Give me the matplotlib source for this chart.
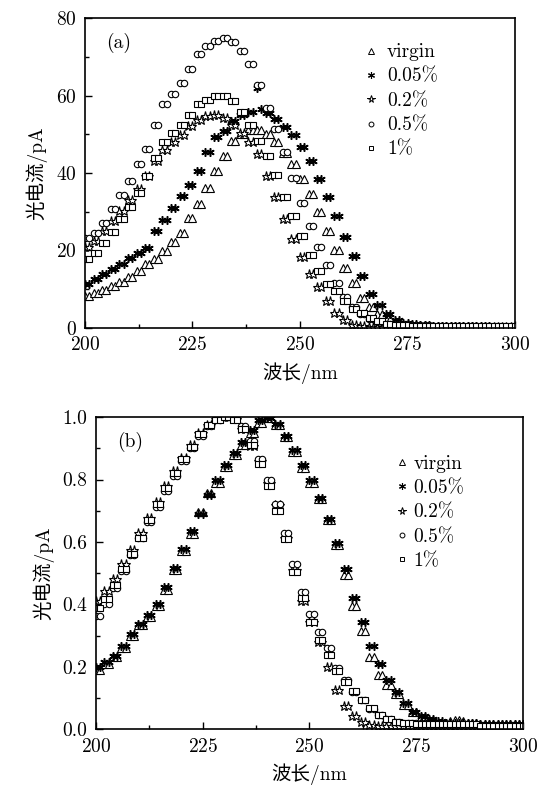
import numpy as np
import matplotlib
matplotlib.use('Agg')
from matplotlib import pyplot as plt
from matplotlib.ticker import MultipleLocator, FormatStrFormatter

plt.rcParams['font.family'] = ['cmr10', 'Noto Sans CJK SC', 'DejaVu Sans']
plt.rcParams['mathtext.fontset'] = 'cm'
plt.rcParams['axes.formatter.use_mathtext'] = True
plt.rcParams['axes.unicode_minus'] = False

# wavelength grid, nm
wl = np.arange(200, 301)

labels = ['virgin', '0.05%', '0.2%', '0.5%', '1%']

# (a) photocurrent, pA
virgin_a = [
    8.1, 8.1, 8.9, 8.9, 9.7, 9.7, 10.7, 10.7, 11.9, 11.9,
    13.1, 13.1, 14.7, 14.7, 16.4, 16.4, 17.8, 17.8, 19.8, 19.8,
    22.2, 22.2, 24.6, 24.6, 28.4, 28.4, 32.0, 32.0, 36.0, 36.0,
    40.5, 40.5, 44.5, 44.5, 48.2, 48.2, 50.2, 50.2, 51.0, 51.0,
    51.0, 51.0, 50.2, 50.2, 48.0, 48.0, 45.2, 45.2, 42.2, 42.2,
    38.5, 38.5, 34.5, 34.5, 30.0, 30.0, 25.0, 25.0, 20.2, 20.2,
    15.5, 15.5, 11.5, 11.5, 7.7, 7.7, 5.5, 5.5, 3.6, 3.6,
    2.3, 2.3, 1.45, 1.45, 0.95, 0.95, 0.75, 0.75, 0.65, 0.65,
    0.6, 0.6, 0.5, 0.5, 0.5, 0.5, 0.4, 0.4, 0.4, 0.4,
    0.4, 0.4, 0.3, 0.3, 0.3, 0.3, 0.3, 0.3, 0.3, 0.3, 0.3]
p005_a = [
    11.3, 11.3, 12.7, 12.7, 14.0, 14.0, 15.3, 15.3, 16.6, 16.6,
    18.0, 18.0, 19.3, 19.3, 20.5, 20.5, 25.0, 25.0, 27.9, 27.9,
    31.0, 31.0, 34.0, 34.0, 37.0, 37.0, 40.5, 40.5, 45.5, 45.5,
    49.2, 49.2, 50.8, 50.8, 53.5, 53.5, 55.0, 55.0, 55.8, 55.8,
    62.0, 56.5, 55.5, 55.5, 54.0, 54.0, 52.0, 52.0, 49.8, 49.8,
    46.7, 46.7, 43.0, 43.0, 38.4, 38.4, 33.8, 33.8, 29.0, 29.0,
    23.5, 23.5, 18.5, 18.5, 13.5, 13.5, 8.7, 8.7, 6.0, 6.0,
    3.5, 3.5, 2.1, 2.1, 1.25, 1.25, 0.95, 0.95, 0.75, 0.75,
    0.7, 0.6, 0.6, 0.6, 0.5, 0.5, 0.5, 0.5, 0.4, 0.4,
    0.4, 0.4, 0.4, 0.4, 0.4, 0.3, 0.3, 0.3, 0.3, 0.3, 0.3]
p02_a = [
    20.8, 20.8, 22.5, 22.5, 25.1, 25.1, 27.5, 27.5, 30.3, 30.3,
    32.9, 32.9, 35.8, 35.8, 39.2, 39.2, 43.0, 43.0, 46.0, 46.0,
    48.0, 48.0, 49.8, 49.8, 52.2, 52.2, 53.8, 53.8, 54.6, 54.6,
    54.9, 54.9, 54.2, 54.2, 52.5, 52.5, 50.4, 50.4, 47.9, 47.9,
    45.0, 45.0, 39.3, 39.3, 33.8, 33.8, 28.0, 28.0, 23.0, 23.0,
    18.3, 18.3, 14.0, 14.0, 10.5, 10.5, 6.9, 6.9, 3.9, 3.9,
    2.1, 2.1, 0.8, 0.8, 0.35, 0.35, 0.3, 0.3, 0.3, 0.3,
    0.3, 0.3, 0.3, 0.3, 0.3, 0.3, 0.3, 0.3, 0.3, 0.3,
    0.3, 0.3, 0.3, 0.2, 0.2, 0.2, 0.2, 0.2, 0.2, 0.2,
    0.2, 0.2, 0.2, 0.2, 0.2, 0.2, 0.2, 0.2, 0.2, 0.2, 0.2]
p05_a = [
    23.2, 23.2, 24.5, 24.5, 27.0, 27.0, 30.8, 30.8, 34.3, 34.3,
    38.0, 38.0, 42.2, 42.2, 46.3, 46.3, 52.5, 52.5, 57.8, 57.8,
    60.3, 60.3, 63.2, 63.2, 66.8, 66.8, 70.7, 70.7, 72.8, 72.8,
    74.1, 74.1, 74.8, 74.8, 73.8, 73.8, 71.5, 71.5, 68.2, 68.2,
    62.8, 62.8, 56.8, 56.8, 51.3, 51.3, 45.5, 45.5, 38.8, 38.8,
    32.3, 32.3, 26.3, 26.3, 21.0, 21.0, 16.3, 16.3, 11.5, 11.5,
    7.9, 7.9, 5.4, 5.4, 3.5, 3.5, 2.2, 2.2, 1.45, 1.45,
    1.05, 1.05, 0.9, 0.9, 0.8, 0.8, 0.8, 0.7, 0.7, 0.7,
    0.7, 0.6, 0.6, 0.6, 0.6, 0.5, 0.5, 0.5, 0.5, 0.5,
    0.5, 0.5, 0.4, 0.4, 0.4, 0.4, 0.4, 0.4, 0.4, 0.4, 0.4]
p1_a = [
    17.8, 17.8, 19.4, 19.4, 21.8, 21.8, 24.8, 24.8, 28.0, 28.0,
    31.3, 31.3, 34.8, 34.8, 39.3, 39.3, 43.8, 43.8, 48.0, 48.0,
    50.3, 50.3, 52.3, 52.3, 55.1, 55.1, 57.9, 57.9, 58.8, 58.8,
    60.0, 60.0, 60.0, 60.0, 58.5, 58.5, 55.8, 55.8, 52.5, 52.5,
    48.3, 48.3, 44.5, 44.5, 39.5, 39.5, 33.8, 33.8, 28.8, 28.8,
    23.8, 23.8, 18.8, 18.8, 14.6, 14.6, 11.3, 11.3, 9.4, 9.4,
    7.0, 7.0, 4.9, 4.9, 3.9, 3.9, 2.5, 2.5, 1.65, 1.65,
    1.1, 1.1, 0.85, 0.85, 0.7, 0.7, 0.6, 0.6, 0.6, 0.5,
    0.5, 0.5, 0.5, 0.5, 0.5, 0.5, 0.5, 0.5, 0.5, 0.5,
    0.5, 0.4, 0.4, 0.4, 0.4, 0.4, 0.4, 0.4, 0.4, 0.4, 0.4]

# (b) normalised photocurrent
virgin_b = [
    0.19, 0.19, 0.21, 0.21, 0.23, 0.23, 0.26, 0.26, 0.30, 0.30,
    0.333, 0.333, 0.358, 0.358, 0.395, 0.395, 0.445, 0.445, 0.51, 0.51,
    0.572, 0.572, 0.625, 0.625, 0.695, 0.695, 0.758, 0.758, 0.79, 0.79,
    0.84, 0.84, 0.88, 0.88, 0.912, 0.912, 0.95, 0.95, 0.982, 0.982,
    0.998, 0.998, 0.975, 0.975, 0.935, 0.935, 0.888, 0.888, 0.838, 0.838,
    0.79, 0.79, 0.738, 0.738, 0.67, 0.67, 0.59, 0.59, 0.495, 0.495,
    0.395, 0.395, 0.315, 0.315, 0.23, 0.23, 0.172, 0.172, 0.142, 0.142,
    0.112, 0.112, 0.078, 0.078, 0.055, 0.055, 0.038, 0.038, 0.028, 0.028,
    0.02, 0.02, 0.02, 0.025, 0.03, 0.03, 0.025, 0.02, 0.02, 0.02,
    0.015, 0.015, 0.015, 0.015, 0.015, 0.015, 0.015, 0.015, 0.015, 0.015, 0.015]
p005_b = [
    0.20, 0.20, 0.215, 0.215, 0.235, 0.235, 0.265, 0.265, 0.305, 0.305,
    0.338, 0.338, 0.365, 0.365, 0.40, 0.40, 0.455, 0.455, 0.518, 0.518,
    0.578, 0.578, 0.635, 0.635, 0.69, 0.69, 0.752, 0.752, 0.80, 0.80,
    0.845, 0.845, 0.885, 0.885, 0.92, 0.92, 0.96, 0.96, 0.99, 0.99,
    0.998, 0.998, 0.978, 0.978, 0.94, 0.94, 0.895, 0.895, 0.848, 0.848,
    0.798, 0.798, 0.74, 0.74, 0.675, 0.675, 0.598, 0.598, 0.512, 0.512,
    0.42, 0.42, 0.345, 0.345, 0.268, 0.268, 0.208, 0.208, 0.158, 0.158,
    0.118, 0.118, 0.083, 0.083, 0.055, 0.055, 0.042, 0.042, 0.032, 0.032,
    0.025, 0.025, 0.02, 0.02, 0.02, 0.02, 0.02, 0.02, 0.02, 0.02,
    0.015, 0.015, 0.015, 0.015, 0.015, 0.015, 0.015, 0.015, 0.015, 0.015, 0.015]
p02_b = [
    0.41, 0.41, 0.443, 0.443, 0.48, 0.48, 0.528, 0.528, 0.573, 0.573,
    0.628, 0.628, 0.678, 0.678, 0.728, 0.728, 0.778, 0.778, 0.828, 0.828,
    0.87, 0.87, 0.91, 0.91, 0.948, 0.948, 0.975, 0.975, 0.994, 0.994,
    1.0, 1.0, 0.994, 0.994, 0.962, 0.962, 0.908, 0.908, 0.858, 0.858,
    0.79, 0.79, 0.718, 0.718, 0.612, 0.612, 0.51, 0.51, 0.41, 0.41,
    0.345, 0.345, 0.28, 0.28, 0.20, 0.20, 0.125, 0.125, 0.075, 0.075,
    0.043, 0.043, 0.022, 0.022, 0.013, 0.013, 0.01, 0.01, 0.01, 0.01,
    0.01, 0.01, 0.01, 0.01, 0.01, 0.01, 0.01, 0.01, 0.01, 0.01,
    0.01, 0.01, 0.01, 0.01, 0.01, 0.01, 0.01, 0.01, 0.01, 0.01,
    0.01, 0.01, 0.01, 0.01, 0.01, 0.01, 0.01, 0.01, 0.01, 0.01, 0.01]
p05_b = [
    0.362, 0.362, 0.40, 0.40, 0.452, 0.452, 0.508, 0.508, 0.558, 0.558,
    0.612, 0.612, 0.665, 0.665, 0.712, 0.712, 0.762, 0.762, 0.812, 0.812,
    0.86, 0.86, 0.90, 0.90, 0.94, 0.94, 0.97, 0.97, 0.992, 0.992,
    1.0, 1.0, 0.998, 0.998, 0.972, 0.972, 0.922, 0.922, 0.865, 0.865,
    0.80, 0.80, 0.72, 0.72, 0.63, 0.63, 0.528, 0.528, 0.44, 0.44,
    0.37, 0.37, 0.312, 0.312, 0.26, 0.26, 0.195, 0.195, 0.158, 0.158,
    0.12, 0.12, 0.095, 0.095, 0.065, 0.065, 0.045, 0.045, 0.032, 0.032,
    0.022, 0.022, 0.02, 0.02, 0.02, 0.02, 0.02, 0.02, 0.015, 0.015,
    0.015, 0.015, 0.015, 0.015, 0.015, 0.015, 0.015, 0.015, 0.015, 0.015,
    0.01, 0.01, 0.01, 0.01, 0.01, 0.01, 0.01, 0.01, 0.01, 0.01, 0.01]
p1_b = [
    0.388, 0.388, 0.418, 0.418, 0.462, 0.462, 0.512, 0.512, 0.562, 0.562,
    0.612, 0.612, 0.67, 0.67, 0.722, 0.722, 0.772, 0.772, 0.822, 0.822,
    0.865, 0.865, 0.905, 0.905, 0.945, 0.945, 0.975, 0.975, 0.992, 0.992,
    1.0, 1.0, 0.992, 0.992, 0.962, 0.962, 0.91, 0.91, 0.85, 0.85,
    0.78, 0.78, 0.70, 0.70, 0.608, 0.608, 0.505, 0.505, 0.42, 0.42,
    0.345, 0.345, 0.285, 0.285, 0.238, 0.238, 0.188, 0.188, 0.152, 0.152,
    0.122, 0.122, 0.092, 0.092, 0.068, 0.068, 0.045, 0.045, 0.032, 0.032,
    0.022, 0.022, 0.02, 0.02, 0.02, 0.015, 0.015, 0.015, 0.015, 0.015,
    0.015, 0.015, 0.015, 0.015, 0.015, 0.015, 0.015, 0.015, 0.015, 0.015,
    0.01, 0.01, 0.01, 0.01, 0.01, 0.01, 0.01, 0.01, 0.01, 0.01, 0.01]

series_a = [virgin_a, p005_a, p02_a, p05_a, p1_a]
series_b = [virgin_b, p005_b, p02_b, p05_b, p1_b]

markers = ['^', (6, 2, 0), '*', 'o', 's']
msizes = [5.8, 6.0, 6.5, 4.6, 4.0]
mews = [0.8, 1.1, 0.8, 0.8, 0.8]
# smaller symbols in the key
key_sizes = [4.0, 5.0, 5.5, 3.5, 3.0]
key_mews = [0.7, 0.8, 0.7, 0.7, 0.7]

fig = plt.figure(figsize=(5.41, 7.90), dpi=100)
ax1 = fig.add_axes([0.157, 0.585, 0.795, 0.392])
ax2 = fig.add_axes([0.177, 0.077, 0.790, 0.395])


def draw(ax, data):
    for y, lab, m, ms, mw in zip(data, labels, markers, msizes, mews):
        ax.plot(wl, y, linestyle='none', marker=m, ms=ms, mfc='white',
                mec='black', mew=mw, label=lab)
    ax.set_xlim(200, 300)
    ax.xaxis.set_major_locator(MultipleLocator(25))
    ax.xaxis.set_minor_locator(MultipleLocator(12.5))
    ax.tick_params(which='both', direction='in', top=False, right=False,
                   labelsize=14, width=1.0)
    ax.tick_params(which='major', length=5, pad=6)
    ax.tick_params(which='minor', length=3)
    for s in ax.spines.values():
        s.set_linewidth(1.2)
    ax.set_xlabel('波长/nm', fontsize=14, labelpad=6)
    ax.set_ylabel('光电流/pA', fontsize=14, labelpad=6)


def key(ax, anchor, textpad):
    leg = ax.legend(loc='upper left', bbox_to_anchor=anchor, frameon=False,
                    fontsize=14, handlelength=0.6, handletextpad=textpad,
                    labelspacing=0.33, borderpad=0)
    for h, ms, mw in zip(leg.legend_handles, key_sizes, key_mews):
        h.set_markersize(ms)
        h.set_markeredgewidth(mw)


draw(ax1, series_a)
ax1.set_ylim(0, 80)
ax1.yaxis.set_major_locator(MultipleLocator(20))
ax1.yaxis.set_minor_locator(MultipleLocator(10))
ax1.text(0.05, 0.92, '(a)', transform=ax1.transAxes, fontsize=14,
         va='center', ha='left')
key(ax1, (0.63, 0.95), 0.5)

draw(ax2, series_b)
ax2.set_ylim(0, 1.0)
ax2.yaxis.set_major_locator(MultipleLocator(0.2))
ax2.yaxis.set_minor_locator(MultipleLocator(0.1))
ax2.yaxis.set_major_formatter(FormatStrFormatter('%.1f'))
ax2.text(0.05, 0.92, '(b)', transform=ax2.transAxes, fontsize=14,
         va='center', ha='left')
key(ax2, (0.68, 0.91), 0.3)

fig.savefig('out.png', dpi=100)
